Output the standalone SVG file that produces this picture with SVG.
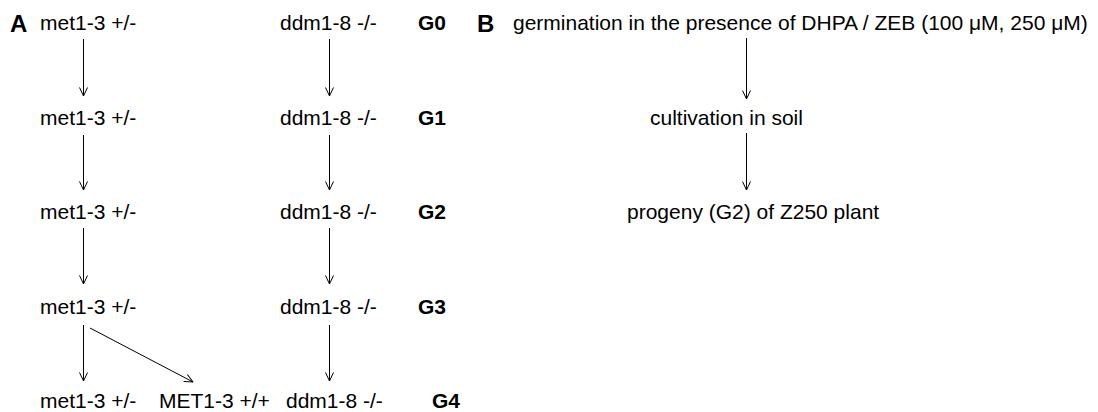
<svg xmlns="http://www.w3.org/2000/svg" width="1098" height="412" viewBox="0 0 1098 412">
<defs>
<style>
text{font-family:"Liberation Sans",Arial,sans-serif;font-size:21px;fill:#000}
.b{font-weight:bold}
.L{font-weight:bold;font-size:24px}
.c line{stroke:#000;stroke-width:1;marker-end:url(#ah)}
</style>
<marker id="ah" viewBox="0 0 10 10" refX="9.5" refY="5" markerWidth="10" markerHeight="10" markerUnits="userSpaceOnUse" orient="auto">
<path d="M1,1 L9.5,5 L1,9" fill="none" stroke="#000" stroke-width="1"/>
</marker>
</defs>
<rect width="1098" height="412" fill="#fff"/>
<g id="labelA"><text class="L" x="10" y="32">A</text></g>
<g id="labelB"><text class="L" x="477" y="32">B</text></g>
<g id="met-g0"><text x="40" y="30">met1-3 +/-</text></g>
<g id="met-g1"><text x="40" y="124.5">met1-3 +/-</text></g>
<g id="met-g2"><text x="40" y="219">met1-3 +/-</text></g>
<g id="met-g3"><text x="40" y="313.5">met1-3 +/-</text></g>
<g id="met-g4"><text x="40" y="408">met1-3 +/-</text></g>
<g id="MET-g4"><text x="159" y="408">MET1-3 +/+</text></g>
<g id="ddm-g0"><text x="280" y="30">ddm1-8 -/-</text></g>
<g id="ddm-g1"><text x="280" y="124.5">ddm1-8 -/-</text></g>
<g id="ddm-g2"><text x="280" y="219">ddm1-8 -/-</text></g>
<g id="ddm-g3"><text x="280" y="313.5">ddm1-8 -/-</text></g>
<g id="ddm-g4"><text x="286" y="408">ddm1-8 -/-</text></g>
<g id="gen0"><text class="b" x="418" y="30">G0</text></g>
<g id="gen1"><text class="b" x="418" y="124.5">G1</text></g>
<g id="gen2"><text class="b" x="418" y="219">G2</text></g>
<g id="gen3"><text class="b" x="418" y="313.5">G3</text></g>
<g id="gen4"><text class="b" x="432" y="408">G4</text></g>
<g id="germination"><text x="513" y="30">germination in the presence of DHPA / ZEB (100 μM, 250 μM)</text></g>
<g id="cultivation"><text x="650" y="124.5">cultivation in soil</text></g>
<g id="progeny"><text x="627" y="219">progeny (G2) of Z250 plant</text></g>
<g id="connectors" class="c">
<line x1="83.5" y1="39" x2="83.5" y2="96"/>
<line x1="83.5" y1="135" x2="83.5" y2="190"/>
<line x1="83.5" y1="228" x2="83.5" y2="284"/>
<line x1="83.5" y1="325" x2="83.5" y2="381"/>
<line x1="90" y1="328" x2="193" y2="382"/>
<line x1="329.5" y1="39" x2="329.5" y2="96"/>
<line x1="329.5" y1="135" x2="329.5" y2="190"/>
<line x1="329.5" y1="228" x2="329.5" y2="284"/>
<line x1="329.5" y1="325" x2="329.5" y2="381"/>
<line x1="746.5" y1="38" x2="746.5" y2="99"/>
<line x1="746.5" y1="133" x2="746.5" y2="190"/>
</g>
</svg>
